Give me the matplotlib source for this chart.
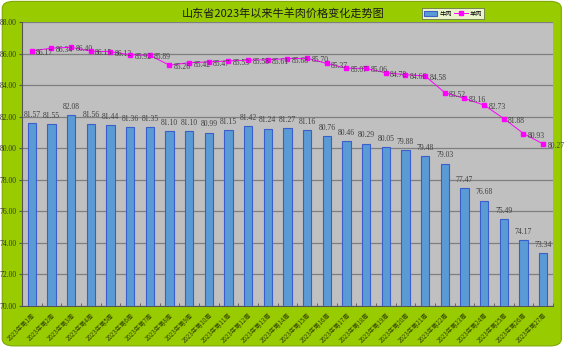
import matplotlib
matplotlib.use('Agg')
import matplotlib.pyplot as plt
from matplotlib.patches import FancyBboxPatch
import numpy as np

plt.rcParams['font.family'] = ['Noto Sans CJK SC', 'DejaVu Sans']

# semaines
semaines = ['2023年第{}周'.format(i) for i in range(1, 28)]
# prix du boeuf (牛肉)
niu = [81.57, 81.55, 82.08, 81.56, 81.44, 81.36, 81.35, 81.10, 81.10,
       80.99, 81.15, 81.42, 81.24, 81.27, 81.16, 80.76, 80.46, 80.29,
       80.05, 79.88, 79.48, 79.03, 77.47, 76.68, 75.49, 74.17, 73.34]
# prix de l'agneau (羊肉)
yang = [86.17, 86.34, 86.40, 86.15, 86.12, 85.92, 85.89, 85.26, 85.42,
        85.47, 85.53, 85.58, 85.61, 85.68, 85.70, 85.37, 85.07, 85.06,
        84.78, 84.66, 84.58, 83.52, 83.16, 82.73, 81.88, 80.93, 80.27]

vert = '#99CC00'
num_font = 'Liberation Serif'

fig = plt.figure(figsize=(5.67, 3.48), dpi=100)
fig.patch.set_facecolor('white')
# fond vert arrondi
fond = FancyBboxPatch((0.004, 0.006), 0.986, 0.99,
                      boxstyle='round,pad=0,rounding_size=0.02',
                      transform=fig.transFigure, facecolor=vert,
                      edgecolor='#7FA800', linewidth=0.8, zorder=-10)
fig.patches.append(fond)

ax = fig.add_axes([0.0388, 0.1207, 0.9365, 0.8161])
ax.set_facecolor('#C0C0C0')

x = np.arange(len(semaines))
barres = ax.bar(x, niu, width=0.42, color='#5B9BD5', edgecolor='#3A5FCD',
                linewidth=0.8, zorder=3, label='牛肉')
ligne, = ax.plot(x, yang, color='#FF00FF', linewidth=0.7, marker='s',
                 markersize=2.5, zorder=4, label='羊肉')

for xi, v in zip(x, niu):
    ax.annotate('{:.2f}'.format(v), (xi, v), xytext=(0, 3),
                textcoords='offset points', ha='center', va='bottom',
                fontsize=5.5, family=num_font, color='#404040', zorder=5)
for xi, v in zip(x, yang):
    ax.annotate('{:.2f}'.format(v), (xi, v), xytext=(3, -1.5),
                textcoords='offset points', ha='left', va='center',
                fontsize=5.5, family=num_font, color='#404040', zorder=5)

ax.set_ylim(70, 88)
ax.set_xlim(-0.5, len(semaines) - 0.5)
ax.set_yticks(np.arange(70, 89, 2))
ax.set_yticklabels(['{:.2f}'.format(t) for t in np.arange(70, 89, 2)],
                   family=num_font, fontsize=5.5, color='#333333')
ax.yaxis.grid(True, color='#7F7F7F', linewidth=0.9, zorder=1)
ax.set_axisbelow(True)

ax.set_xticks(x)
ax.set_xticklabels(semaines, rotation=45, ha='right', rotation_mode='anchor',
                   fontsize=4.5, color='#334400')
ax.tick_params(axis='x', length=0, pad=4)
ax.set_xticks(np.arange(-0.5, len(semaines), 1), minor=True)
ax.tick_params(axis='x', which='minor', direction='in', length=2,
               color='#555555')
ax.tick_params(axis='y', length=2, color='#555555', pad=2)

for s in ['top', 'right']:
    ax.spines[s].set_visible(False)
ax.spines['left'].set_color('#555555')
ax.spines['bottom'].set_color('#555555')

fig.text(0.5, 0.962, '山东省2023年以来牛羊肉价格变化走势图', ha='center',
         va='center', fontsize=8, fontweight='medium', color='#1A1A1A')

leg = fig.legend([barres, ligne], ['牛肉', '羊肉'], loc='center',
                 bbox_to_anchor=(453 / 567, 1 - 13.5 / 348), ncol=2,
                 fontsize=4.5, frameon=True, fancybox=False, borderpad=0.2,
                 handlelength=2.2, handletextpad=0.3, columnspacing=0.4,
                 borderaxespad=0)
leg.get_frame().set_edgecolor('#404040')
leg.get_frame().set_linewidth(0.5)

plt.savefig('out.png', dpi=100, facecolor=fig.get_facecolor())
